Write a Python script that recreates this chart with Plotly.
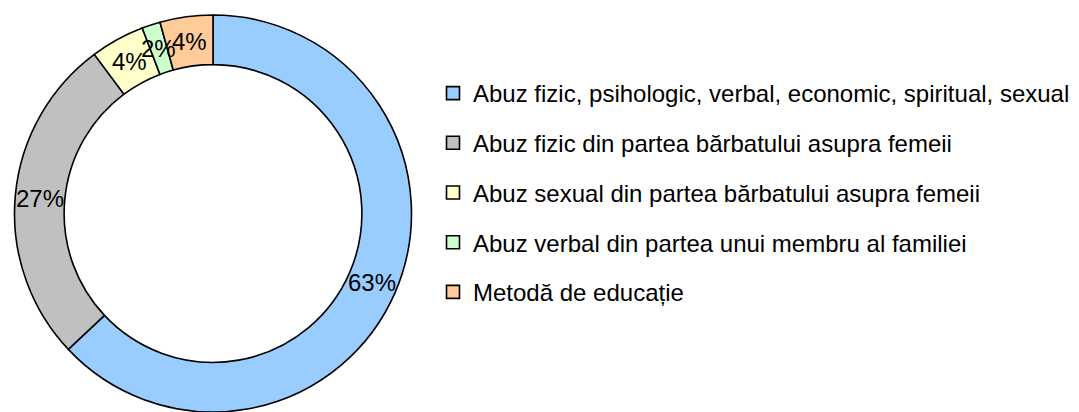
import math
import plotly.graph_objects as go

labels = [
    "Abuz fizic, psihologic, verbal, economic, spiritual, sexual",
    "Abuz fizic din partea bărbatului asupra femeii",
    "Abuz sexual din partea bărbatului asupra femeii",
    "Abuz verbal din partea unui membru al familiei",
    "Metodă de educație",
]
values = [63.0, 26.8, 4.4, 1.5, 4.3]
colors = ["#99CCFF", "#C0C0C0", "#FFFFCC", "#CCFFCC", "#FFCC99"]

# page body has an 8px margin, so the figure is a bit smaller than the window
W, H = 1071, 404
top = 7
ph = H - top
r = ph / 2
cx = 205
cy = top + r
hole = 0.75
FONT = "Liberation Sans, Arial"

fig = go.Figure()
fig.add_trace(go.Pie(
    labels=labels,
    values=values,
    hole=hole,
    sort=False,
    direction="clockwise",
    rotation=0,
    marker=dict(colors=colors, line=dict(color="black", width=1.6)),
    textinfo="none",
    showlegend=False,
    domain=dict(x=[(cx - r) / W, (cx + r) / W], y=[0, 1]),
))

# percentage labels at the middle of each ring segment
total = sum(values)
cum = 0.0
rl = r * (1 + hole) / 2
for v in values:
    mid = (cum + v / 2) / total * 2 * math.pi
    cum += v
    px = cx + rl * math.sin(mid)
    py = cy - rl * math.cos(mid)
    fig.add_annotation(
        x=px / W, y=1 - (py - top) / ph, xref="paper", yref="paper",
        text=f"{round(v / total * 100)}%", showarrow=False,
        font=dict(family=FONT, size=24, color="black"),
        xanchor="center", yanchor="middle",
    )

for i, (lab, col) in enumerate(zip(labels, colors)):
    fig.add_trace(go.Scatter(
        x=[None], y=[None], mode="markers", name=lab,
        legendgroup=f"g{i}",
        marker=dict(symbol="square", size=13, color=col, line=dict(color="black", width=1.6)),
    ))

fig.update_layout(
    width=W, height=H,
    margin=dict(l=0, r=0, t=top, b=0),
    paper_bgcolor="white", plot_bgcolor="white",
    xaxis=dict(visible=False), yaxis=dict(visible=False),
    legend=dict(
        x=425 / W, xanchor="left",
        y=1 - (63 - top) / ph, yanchor="top",
        font=dict(family=FONT, size=24, color="black"),
        tracegroupgap=15.5,
        itemsizing="trace",
        bgcolor="rgba(0,0,0,0)",
    ),
    font=dict(family=FONT),
)

fig.write_html("out.html")
